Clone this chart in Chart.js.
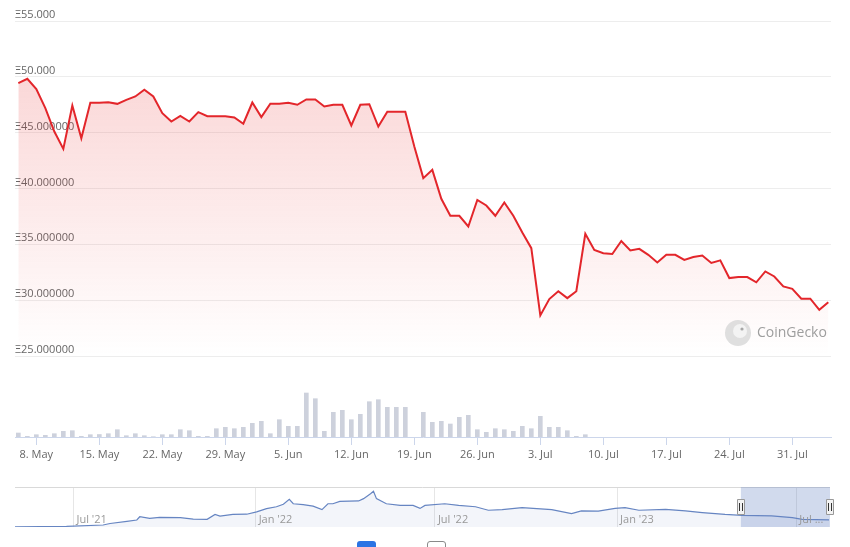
<!DOCTYPE html>
<html>
<head>
<meta charset="utf-8">
<title>Price chart</title>
<script src="https://cdn.jsdelivr.net/npm/chart.js@4.4.0/dist/chart.umd.min.js"></script>
<style>
    html, body { margin: 0; padding: 0; background: #fff; }
    body { width: 850px; height: 547px; position: relative; overflow: hidden; font-family: 'Open Sans', sans-serif; }
    #mainWrap { position: absolute; left: 0; top: 0; width: 850px; height: 470px; }
    #navWrap { position: absolute; left: 0; top: 480px; width: 850px; height: 50px; }
    .toggle { position: absolute; top: 541px; width: 19px; height: 14px; border-radius: 3px; box-sizing: border-box; }
    #toggleOn { left: 357px; background: #2b74e4; }
    #toggleOff { left: 427px; border: 1.5px solid #8a8a8a; background: #fff; }
</style>
</head>
<body>
<div id="mainWrap"><canvas id="priceChart"></canvas></div>
<div id="navWrap"><canvas id="navChart"></canvas></div>
<div class="toggle" id="toggleOn"></div>
<div class="toggle" id="toggleOff"></div>

<script>
// Daily data, 6 May - 4 Aug
const startDate = '2023-05-06';
const monthNames = ['Jan', 'Feb', 'Mar', 'Apr', 'May', 'Jun', 'Jul', 'Aug', 'Sep', 'Oct', 'Nov', 'Dec'];

const priceValues = [
    49.44, 49.82, 48.9, 47.2, 45.1, 43.55, 47.43, 44.5, 47.67, 47.67,
    47.73, 47.58, 47.94, 48.24, 48.84, 48.24, 46.75, 46.0, 46.5, 46.0,
    46.84, 46.48, 46.48, 46.48, 46.36, 45.8, 47.7, 46.4, 47.6, 47.6,
    47.67, 47.5, 47.97, 47.97, 47.35, 47.5, 47.5, 45.64, 47.5, 47.55,
    45.55, 46.87, 46.87, 46.87, 43.76, 40.93, 41.67, 39.08, 37.56, 37.56,
    36.6, 38.98, 38.48, 37.56, 38.75, 37.56, 36.06, 34.66, 28.63, 30.1,
    30.8, 30.18, 30.8, 35.94, 34.5, 34.2, 34.13, 35.3, 34.45, 34.6,
    34.06, 33.38, 34.06, 34.06, 33.6, 33.86, 34.0, 33.33, 33.56, 31.98,
    32.07, 32.07, 31.6, 32.57, 32.12, 31.23, 31.02, 30.13, 30.13, 29.14,
    29.82
];

const volumeValues = [
    4, 0.7, 2.3, 1.7, 3.3, 5.7, 6.3, 0.7, 2.3, 2.5,
    3.3, 7.3, 1.3, 3.3, 1.3, 0.3, 2.3, 2.3, 7.3, 6.3,
    0.7, 0.7, 8.3, 9.7, 8.3, 9.7, 13.7, 15.7, 3.3, 17.3,
    10.7, 10.7, 44, 38.3, 5.7, 24.7, 26.7, 17.3, 22.7, 35.3,
    37.3, 29.7, 29.7, 29.7, 0, 24.7, 14.7, 15.7, 13, 19.7,
    21.7, 7.3, 4.7, 8.3, 7.3, 5.7, 10.7, 8.3, 20.7, 9.7,
    9.7, 6.3, 0.7, 2.3, 0, 0, 0, 0, 0, 0,
    0, 0, 0, 0, 0, 0, 0, 0, 0, 0,
    0, 0, 0, 0, 0, 0, 0, 0, 0, 0,
    0
];

const xTickIndex = [2, 9, 16, 23, 30, 37, 44, 51, 58, 65, 72, 79, 86];
const yTickValues = [25, 30, 35, 40, 45, 50, 55];
const yTickLabels = ['Ξ25.000000', 'Ξ30.000000', 'Ξ35.000000', 'Ξ40.000000', 'Ξ45.000000', 'Ξ50.000', 'Ξ55.000'];

// Navigator (full history)
const navStart = '2021-05-03';
const navEnd = '2023-08-04';
const navDates = [
    '2021-05-03', '2021-06-24', '2021-07-31', '2021-08-07', '2021-08-24', '2021-09-03', '2021-09-06',
    '2021-09-16', '2021-09-26', '2021-10-17', '2021-10-30', '2021-11-13', '2021-11-21', '2021-11-26',
    '2021-12-09', '2021-12-23', '2022-01-02', '2022-01-12', '2022-01-22', '2022-01-29', '2022-02-04',
    '2022-02-08', '2022-02-18', '2022-02-28', '2022-03-09', '2022-03-15', '2022-03-20', '2022-03-27',
    '2022-04-15', '2022-04-20', '2022-04-27', '2022-04-30', '2022-05-03', '2022-05-13', '2022-05-27',
    '2022-06-09', '2022-06-16', '2022-06-21', '2022-07-11', '2022-07-25', '2022-08-11', '2022-08-24',
    '2022-09-07', '2022-09-27', '2022-10-27', '2022-11-16', '2022-11-26', '2022-12-13', '2022-12-30',
    '2023-01-09', '2023-01-23', '2023-02-19', '2023-03-11', '2023-03-28', '2023-04-20', '2023-05-07',
    '2023-06-06', '2023-06-27', '2023-07-07', '2023-08-03'
];
const navValues = [
    1, 3, 8.5, 15, 24, 30, 44,
    37, 41, 40, 34, 33, 54, 47,
    54, 55, 65, 79, 87, 98, 119,
    100, 96, 90, 75, 100, 100, 110,
    112, 122, 143, 154, 122, 100, 93,
    93, 80, 93, 100, 93, 87, 72,
    75, 83, 75, 58, 69, 68, 80,
    83, 72, 76, 69, 62, 54, 50,
    48, 40, 33, 31
];
const navTickDates = ['2021-07-01', '2022-01-01', '2022-07-01', '2023-01-01', '2023-07-01'];
const navTickLabels = ["Jul '21", "Jan '22", "Jul '22", "Jan '23", 'Jul ...'];
const navSelection = ['2023-05-06', '2023-08-04'];

const baseFont = "'Open Sans', sans-serif";
Chart.defaults.font.family = baseFont;
Chart.defaults.font.size = 11;

function dayNumber(dateStr) {
    return Math.round((Date.parse(dateStr + 'T00:00:00Z') - Date.parse(navStart + 'T00:00:00Z')) / 86400000);
}

const dayLabels = [];
const startMs = Date.parse(startDate + 'T00:00:00Z');
for (let i = 0; i < priceValues.length; i++) {
    const d = new Date(startMs + i * 86400000);
    dayLabels.push(d.getUTCDate() + '. ' + monthNames[d.getUTCMonth()]);
}

function noPadding(scale) {
    scale.paddingTop = 0;
    scale.paddingBottom = 0;
    scale.paddingLeft = 0;
    scale.paddingRight = 0;
}

// CoinGecko watermark
const watermark = {
    id: 'watermark',
    afterDatasetsDraw(chart) {
        const ctx = chart.ctx;
        ctx.save();
        ctx.fillStyle = 'rgba(215,215,215,0.8)';
        ctx.beginPath();
        ctx.arc(738, 333, 13, 0, Math.PI * 2);
        ctx.fill();
        ctx.fillStyle = 'rgba(245,245,245,0.9)';
        ctx.beginPath();
        ctx.arc(740, 331, 7, 0, Math.PI * 2);
        ctx.fill();
        ctx.fillStyle = '#a6a6a6';
        ctx.beginPath();
        ctx.arc(742, 329, 1.6, 0, Math.PI * 2);
        ctx.fill();
        ctx.font = '14px ' + baseFont;
        ctx.fillStyle = '#9e9e9e';
        ctx.textBaseline = 'middle';
        ctx.fillText('CoinGecko', 757, 333);
        ctx.restore();
    }
};

new Chart(document.getElementById('priceChart'), {
    data: {
        datasets: [{
            type: 'line',
            label: 'Price',
            data: priceValues.map((v, i) => ({ x: i, y: v })),
            yAxisID: 'y',
            borderColor: '#e3262b',
            borderWidth: 2,
            pointRadius: 0,
            tension: 0,
            fill: 'start',
            backgroundColor: function(context) {
                const chart = context.chart;
                const s = chart.scales.y;
                if (!chart.chartArea || !s || !isFinite(s.top) || !isFinite(s.bottom) || s.bottom <= s.top) {
                    return 'rgba(232,50,50,0.1)';
                }
                const g = chart.ctx.createLinearGradient(0, s.top, 0, s.bottom);
                g.addColorStop(0, 'rgba(232,50,50,0.23)');
                g.addColorStop(1, 'rgba(232,50,50,0)');
                return g;
            }
        }, {
            type: 'bar',
            label: 'Volume',
            // days with no volume are left out
            data: volumeValues.map((v, i) => ({ x: i, y: v > 0 ? v : null })),
            yAxisID: 'yv',
            backgroundColor: '#cdd1dc',
            barThickness: 4
        }]
    },
    options: {
        responsive: true,
        maintainAspectRatio: false,
        animation: false,
        layout: { padding: { left: 15, right: 19, top: 21, bottom: 0 } },
        plugins: {
            legend: { display: false },
            tooltip: { enabled: false }
        },
        scales: {
            x: {
                type: 'linear',
                min: -0.37,
                max: 90.3,
                offset: false,
                grid: { drawOnChartArea: false, color: '#ccd6eb', tickLength: 8, offset: false },
                border: { color: '#ccd6eb' },
                afterBuildTicks: function(s) {
                    s.ticks = xTickIndex.map(v => ({ value: v }));
                },
                ticks: {
                    autoSkip: false,
                    maxRotation: 0,
                    color: '#666',
                    padding: 3,
                    callback: function(v) { return dayLabels[v]; }
                },
                afterFit: function(s) { s.height = 33; noPadding(s); }
            },
            yv: {
                type: 'linear',
                position: 'left',
                stack: 'main',
                stackWeight: 81,
                min: 0,
                max: 81,
                ticks: { display: false },
                grid: { display: false },
                border: { display: false },
                afterFit: function(s) { s.width = 0; noPadding(s); }
            },
            y: {
                type: 'linear',
                position: 'left',
                stack: 'main',
                stackWeight: 335,
                min: 25,
                max: 55,
                afterBuildTicks: function(s) {
                    s.ticks = yTickValues.map(v => ({ value: v }));
                },
                ticks: {
                    mirror: true,
                    padding: 0,
                    labelOffset: -6,
                    color: '#666',
                    callback: function(v) { return yTickLabels[yTickValues.indexOf(v)]; }
                },
                grid: { color: '#ededed', drawTicks: false },
                border: { display: false },
                afterFit: function(s) { s.width = 0; noPadding(s); }
            }
        }
    },
    plugins: [watermark]
});

// Navigator decorations: top border, selected range, handles, labels
const navDecor = {
    id: 'navDecor',
    afterDatasetsDraw(chart) {
        const ctx = chart.ctx;
        const area = chart.chartArea;
        const xs = chart.scales.x;
        ctx.save();
        ctx.strokeStyle = '#d9d9d9';
        ctx.lineWidth = 1;
        ctx.beginPath();
        ctx.moveTo(area.left, area.top + 0.5);
        ctx.lineTo(area.right, area.top + 0.5);
        ctx.stroke();

        const x0 = xs.getPixelForValue(dayNumber(navSelection[0]));
        const x1 = xs.getPixelForValue(dayNumber(navSelection[1]));
        ctx.fillStyle = 'rgba(102,133,194,0.3)';
        ctx.fillRect(x0, area.top, x1 - x0, area.bottom - area.top);

        ctx.font = '11px ' + baseFont;
        ctx.fillStyle = '#999';
        ctx.textBaseline = 'middle';
        navTickDates.forEach(function(d, i) {
            const px = xs.getPixelForValue(dayNumber(d));
            ctx.fillText(navTickLabels[i], px + 3, area.bottom - 7);
        });

        [x0, x1].forEach(function(hx) {
            const hy = area.top + 12;
            ctx.fillStyle = '#f2f2f2';
            ctx.strokeStyle = '#999';
            ctx.beginPath();
            ctx.rect(Math.round(hx) - 3.5, hy + 0.5, 7, 15);
            ctx.fill();
            ctx.stroke();
            ctx.strokeStyle = '#333';
            ctx.beginPath();
            ctx.moveTo(Math.round(hx) - 1.5, hy + 4);
            ctx.lineTo(Math.round(hx) - 1.5, hy + 12);
            ctx.moveTo(Math.round(hx) + 1.5, hy + 4);
            ctx.lineTo(Math.round(hx) + 1.5, hy + 12);
            ctx.stroke();
        });
        ctx.restore();
    }
};

new Chart(document.getElementById('navChart'), {
    type: 'line',
    data: {
        datasets: [{
            data: navDates.map((d, i) => ({ x: dayNumber(d), y: navValues[i] })),
            borderColor: '#6685c2',
            borderWidth: 1.2,
            pointRadius: 0,
            tension: 0,
            fill: 'start',
            backgroundColor: 'rgba(102,133,194,0.08)'
        }]
    },
    options: {
        responsive: true,
        maintainAspectRatio: false,
        animation: false,
        layout: { padding: { left: 15, right: 20, top: 7, bottom: 3 } },
        plugins: {
            legend: { display: false },
            tooltip: { enabled: false }
        },
        scales: {
            x: {
                type: 'linear',
                min: 0,
                max: dayNumber(navEnd),
                afterBuildTicks: function(s) {
                    s.ticks = navTickDates.map(d => ({ value: dayNumber(d) }));
                },
                ticks: { display: false },
                grid: { color: '#e6e6e6', drawTicks: false },
                border: { display: false },
                afterFit: function(s) { s.height = 0; noPadding(s); }
            },
            y: {
                min: 0,
                max: 172,
                display: false
            }
        }
    },
    plugins: [navDecor]
});
</script>
</body>
</html>
